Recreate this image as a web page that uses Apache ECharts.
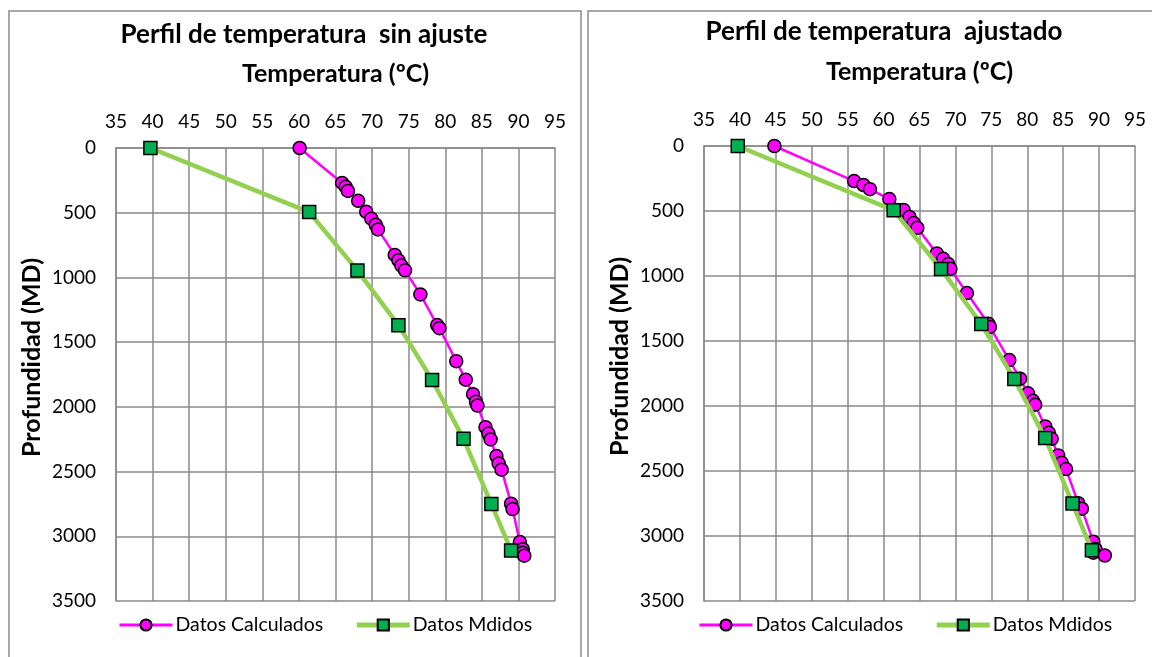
<!DOCTYPE html>
<html>
<head>
<meta charset="utf-8">
<script src="https://cdn.jsdelivr.net/npm/echarts@6/dist/echarts.min.js"></script>
<style>
html,body{margin:0;padding:0;background:#fff;}
#chart{width:1152px;height:657px;}
</style>
</head>
<body>
<div id="chart"></div>
<script>
// ---- Data ----
const depthCalc = [0, 270, 300, 332, 408, 493, 546, 593, 629, 826, 868, 908, 945, 1131, 1368, 1392, 1647, 1790, 1902, 1960, 1990, 2157, 2206, 2252, 2380, 2437, 2485, 2748, 2790, 3045, 3100, 3128, 3150];
const tempCalcSinAjuste = [60.1, 65.9, 66.4, 66.7, 68.1, 69.2, 69.9, 70.5, 70.8, 73.1, 73.6, 74.0, 74.5, 76.6, 78.9, 79.2, 81.5, 82.8, 83.8, 84.2, 84.4, 85.5, 85.9, 86.2, 87.0, 87.3, 87.7, 89.0, 89.2, 90.2, 90.6, 90.6, 90.8];
const tempCalcAjustado = [44.8, 55.9, 57.2, 58.1, 60.8, 62.8, 63.6, 64.2, 64.7, 67.4, 68.3, 69.0, 69.3, 71.6, 74.6, 74.8, 77.5, 79.0, 80.1, 80.8, 81.1, 82.5, 83.0, 83.4, 84.3, 84.8, 85.4, 87.1, 87.6, 89.2, 89.5, 89.2, 90.8];
const depthMedido = [0, 495, 947, 1369, 1792, 2247, 2750, 3110];
const tempMedido = [39.7, 61.4, 68.0, 73.6, 78.2, 82.5, 86.3, 89.0];
const tempTicks = [35, 40, 45, 50, 55, 60, 65, 70, 75, 80, 85, 90, 95];
const depthTicks = [0, 500, 1000, 1500, 2000, 2500, 3000, 3500];
const titles = ['Perfil de temperatura  sin ajuste', 'Perfil de temperatura  ajustado'];
const xName = 'Temperatura (ºC)';
const yName = 'Profundidad (MD)';
const seriesNames = ['Datos Calculados', 'Datos Mdidos'];

// ---- Styling ----
const FONT = 'Lato, "Noto Sans", sans-serif';
const GRID_COLOR = '#8a8a8a';
const CALC_LINE = '#ff00ff', MEAS_LINE = '#92d050';
const pairs = (xs, ys) => xs.map((x, i) => [x, ys[i]]);

const grids = [
  {left: 116, top: 148, width: 439, height: 453},
  {left: 704, top: 146, width: 431, height: 455}
];

function makeXAxis(i) {
  return {
    type: 'value', gridIndex: i, position: 'top',
    min: tempTicks[0], max: tempTicks[tempTicks.length - 1], interval: tempTicks[1] - tempTicks[0],
    name: xName, nameLocation: 'middle', nameGap: 62,
    nameTextStyle: {fontFamily: FONT, fontWeight: 'bold', fontSize: 25, color: '#000'},
    axisLine: {show: true, onZero: false, lineStyle: {color: GRID_COLOR, width: 1.5}},
    axisTick: {show: false},
    axisLabel: {fontFamily: FONT, fontSize: 19, color: '#000', margin: 17, formatter: v => String(v)},
    splitLine: {show: true, lineStyle: {color: GRID_COLOR, width: 1.5}}
  };
}
function makeYAxis(i) {
  return {
    type: 'value', gridIndex: i, inverse: true,
    min: depthTicks[0], max: depthTicks[depthTicks.length - 1], interval: depthTicks[1] - depthTicks[0],
    name: yName, nameLocation: 'middle', nameGap: 72, nameRotate: 90,
    nameTextStyle: {fontFamily: FONT, fontWeight: 'bold', fontSize: 25, color: '#000', padding: [0, 0, 0, 34]},
    axisLine: {show: true, onZero: false, lineStyle: {color: GRID_COLOR, width: 1.5}},
    axisTick: {show: false},
    axisLabel: {fontFamily: FONT, fontSize: 19, color: '#000', margin: 20, formatter: v => String(v)},
    splitLine: {show: true, lineStyle: {color: GRID_COLOR, width: 1.5}}
  };
}
function calcSeries(i, temps) {
  return {
    name: seriesNames[0], type: 'line', xAxisIndex: i, yAxisIndex: i,
    data: pairs(temps, depthCalc), z: 2,
    symbol: 'circle', symbolSize: 13,
    lineStyle: {color: CALC_LINE, width: 2.5},
    itemStyle: {color: '#ff00ff', borderColor: '#000', borderWidth: 1.5},
    emphasis: {disabled: true}, animation: false
  };
}
function measSeries(i) {
  return {
    name: seriesNames[1], type: 'line', xAxisIndex: i, yAxisIndex: i,
    data: pairs(tempMedido, depthMedido), z: 3,
    symbol: 'rect', symbolSize: 13,
    lineStyle: {color: MEAS_LINE, width: 4.5},
    itemStyle: {color: '#00b050', borderColor: '#000', borderWidth: 1.5},
    emphasis: {disabled: true}, animation: false
  };
}
function makeLegend(left) {
  return {
    left: left, top: 610, itemWidth: 53, itemHeight: 14, itemGap: 31,
    data: [
      {name: seriesNames[0], lineStyle: {color: CALC_LINE, width: 3}},
      {name: seriesNames[1], lineStyle: {color: MEAS_LINE, width: 5}}
    ],
    textStyle: {fontFamily: FONT, fontSize: 19.5, color: '#000', padding: [0, 0, 0, -2]}
  };
}

const chart = echarts.init(document.getElementById('chart'), null, {renderer: 'canvas'});
chart.setOption({
  animation: false,
  backgroundColor: '#fff',
  grid: grids,
  xAxis: [makeXAxis(0), makeXAxis(1)],
  yAxis: [makeYAxis(0), makeYAxis(1)],
  legend: [makeLegend(113), makeLegend(693)],
  series: [calcSeries(0, tempCalcSinAjuste), measSeries(0), calcSeries(1, tempCalcAjustado), measSeries(1)],
  graphic: [
    {type: 'rect', shape: {x: 9, y: 11, width: 572, height: 680}, style: {fill: null, stroke: '#8c8c8c', lineWidth: 1.5}, silent: true, z: -1},
    {type: 'rect', shape: {x: 588, y: 11, width: 572, height: 680}, style: {fill: null, stroke: '#8c8c8c', lineWidth: 1.5}, silent: true, z: -1},
    {type: 'text', x: 304, y: 35, style: {text: titles[0], font: 'bold 26px ' + FONT, fill: '#000', textAlign: 'center', textVerticalAlign: 'middle'}},
    {type: 'text', x: 884, y: 32, style: {text: titles[1], font: 'bold 26px ' + FONT, fill: '#000', textAlign: 'center', textVerticalAlign: 'middle'}}
  ]
});
</script>
</body>
</html>
